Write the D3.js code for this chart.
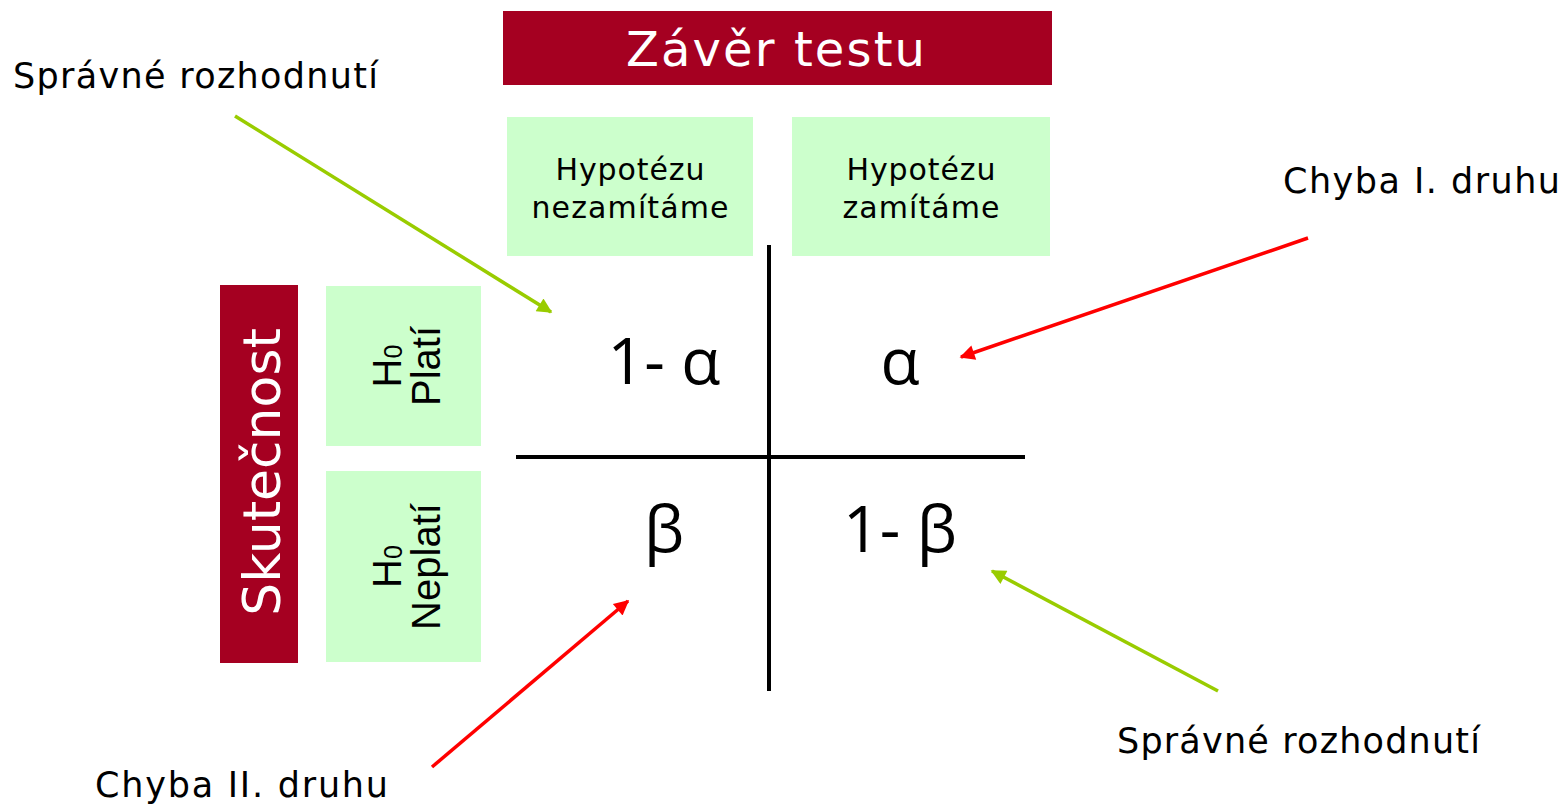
<!DOCTYPE html>
<html>
<head>
<meta charset="utf-8">
<script src="https://cdn.jsdelivr.net/npm/d3@7"></script>
<style>
  body { margin: 0; background: #fff; }
  svg { display: block; }
</style>
</head>
<body>
<svg id="chart" width="1566" height="805"></svg>
<script>
// texts of the decision table
const title = 'Závěr testu';
const sideTitle = 'Skutečnost';
const decisions = ['nezamítáme', 'zamítáme'];
const states = ['Platí', 'Neplatí'];
const cells = [
    {state: 'Platí',   decision: 'nezamítáme', label: '1- α'},
    {state: 'Platí',   decision: 'zamítáme',   label: 'α'},
    {state: 'Neplatí', decision: 'nezamítáme', label: 'β'},
    {state: 'Neplatí', decision: 'zamítáme',   label: '1- β'}
];
const notes = [
    {label: 'Správné rozhodnutí', kind: 'ok'},
    {label: 'Chyba I. druhu',     kind: 'err'},
    {label: 'Chyba II. druhu',    kind: 'err'},
    {label: 'Správné rozhodnutí', kind: 'ok'}
];

const DARKRED = '#a50021', LIGHT = '#ccffcc';
const FONT = 'Verdana, "DejaVu Sans", sans-serif';
const arrowColor = {ok: '#99cc00', err: '#ff0000'};
const svg = d3.select('#chart');

// header boxes are not quite the same size, so ordinal scales
var scale =
{
    colX: d3.scaleOrdinal(decisions, [507, 792]),
    colW: d3.scaleOrdinal(decisions, [246, 258]),
    rowY: d3.scaleOrdinal(states, [286, 471]),
    rowH: d3.scaleOrdinal(states, [160, 191]),
    cellX: d3.scalePoint().domain(decisions).range([664, 900]),
    cellY: d3.scalePoint().domain(states).range([384, 552])
};

// title bar
svg.append('rect').attr('x', 503).attr('y', 11).attr('width', 549).attr('height', 74).attr('fill', DARKRED);
svg.append('text').attr('x', 626).attr('y', 66)
    .attr('font-family', FONT).attr('font-size', 48).attr('fill', '#fff')
    .attr('textLength', 299).attr('lengthAdjust', 'spacing')
    .text(title);

// column headers
const colHead = svg.selectAll('g.col').data(decisions).join('g').attr('class', 'col');
colHead.append('rect')
    .attr('x', (d) => scale.colX(d)).attr('y', 117)
    .attr('width', (d) => scale.colW(d)).attr('height', 139)
    .attr('fill', LIGHT);
colHead.append('text')
    .attr('text-anchor', 'middle').attr('font-family', FONT).attr('font-size', 30).attr('fill', '#000')
    .each(function(d, i) {
        const cx = scale.colX(d) + scale.colW(d) / 2;
        d3.select(this).append('tspan').attr('x', cx).attr('y', 180)
            .attr('textLength', 149).attr('lengthAdjust', 'spacing').text('Hypotézu');
        d3.select(this).append('tspan').attr('x', cx).attr('y', 218)
            .attr('textLength', i ? 157 : 197).attr('lengthAdjust', 'spacing').text(d);
    });

// side title
svg.append('rect').attr('x', 220).attr('y', 285).attr('width', 78).attr('height', 378).attr('fill', DARKRED);
svg.append('text').attr('transform', 'translate(280,472) rotate(-90)').attr('text-anchor', 'middle')
    .attr('font-family', FONT).attr('font-size', 52).attr('fill', '#fff').text(sideTitle);

// row headers
const rowHead = svg.selectAll('g.row').data(states).join('g').attr('class', 'row');
rowHead.append('rect')
    .attr('x', 326).attr('y', (d) => scale.rowY(d))
    .attr('width', 155).attr('height', (d) => scale.rowH(d))
    .attr('fill', LIGHT);
rowHead.append('text')
    .attr('font-family', 'Liberation Sans, Arial, sans-serif').attr('font-size', 40).attr('fill', '#000')
    .attr('text-anchor', 'middle')
    .attr('transform', (d) => `translate(404,${scale.rowY(d) + scale.rowH(d) / 2}) rotate(-90)`)
    .each(function(d) {
        const t = d3.select(this);
        const h = t.append('tspan').attr('x', 0).attr('y', -3);
        h.append('tspan').text('H');
        h.append('tspan').attr('font-size', 25).attr('dy', 1).text('0');
        t.append('tspan').attr('x', 0).attr('y', 36).text(d);
    });

// cross lines
svg.append('line').attr('x1', 769).attr('x2', 769).attr('y1', 245).attr('y2', 691)
    .attr('stroke', '#000').attr('stroke-width', 4);
svg.append('line').attr('x1', 516).attr('x2', 1025).attr('y1', 457).attr('y2', 457)
    .attr('stroke', '#000').attr('stroke-width', 4);

// cell values
svg.selectAll('text.cell').data(cells).join('text').attr('class', 'cell')
    .attr('x', (d) => scale.cellX(d.decision))
    .attr('y', (d) => scale.cellY(d.state))
    .attr('text-anchor', 'middle')
    .attr('font-family', '"Open Sans", sans-serif').attr('font-size', 64).attr('fill', '#000')
    .text((d) => d.label);

// annotation arrows and their labels
const notePlace = [
    {tx: 13,   ty: 88,  w: 365, x1: 235,  y1: 116, x2: 551, y2: 312},
    {tx: 1283, ty: 193, w: 277, x1: 1308, y1: 238, x2: 961, y2: 357},
    {tx: 95,   ty: 797, w: 293, x1: 432,  y1: 767, x2: 628, y2: 601},
    {tx: 1117, ty: 753, w: 363, x1: 1218, y1: 691, x2: 992, y2: 571}
];

const defs = svg.append('defs');
Object.keys(arrowColor).forEach((k) => {
    defs.append('marker').attr('id', 'head-' + k)
        .attr('viewBox', '0 0 10 10').attr('refX', 9).attr('refY', 5)
        .attr('markerUnits', 'userSpaceOnUse').attr('markerWidth', 19).attr('markerHeight', 15)
        .attr('orient', 'auto')
        .append('path').attr('d', 'M0,0L10,5L0,10Z').attr('fill', arrowColor[k]);
});

const note = svg.selectAll('g.note').data(notes).join('g').attr('class', 'note');
note.append('line')
    .attr('x1', (d, i) => notePlace[i].x1).attr('y1', (d, i) => notePlace[i].y1)
    .attr('x2', (d, i) => notePlace[i].x2).attr('y2', (d, i) => notePlace[i].y2)
    .attr('stroke', (d) => arrowColor[d.kind]).attr('stroke-width', 3.5)
    .attr('marker-end', (d) => `url(#head-${d.kind})`);
note.append('text')
    .attr('x', (d, i) => notePlace[i].tx).attr('y', (d, i) => notePlace[i].ty)
    .attr('font-family', FONT).attr('font-size', 35).attr('fill', '#000')
    .attr('textLength', (d, i) => notePlace[i].w).attr('lengthAdjust', 'spacing')
    .text((d) => d.label);
</script>
</body>
</html>
